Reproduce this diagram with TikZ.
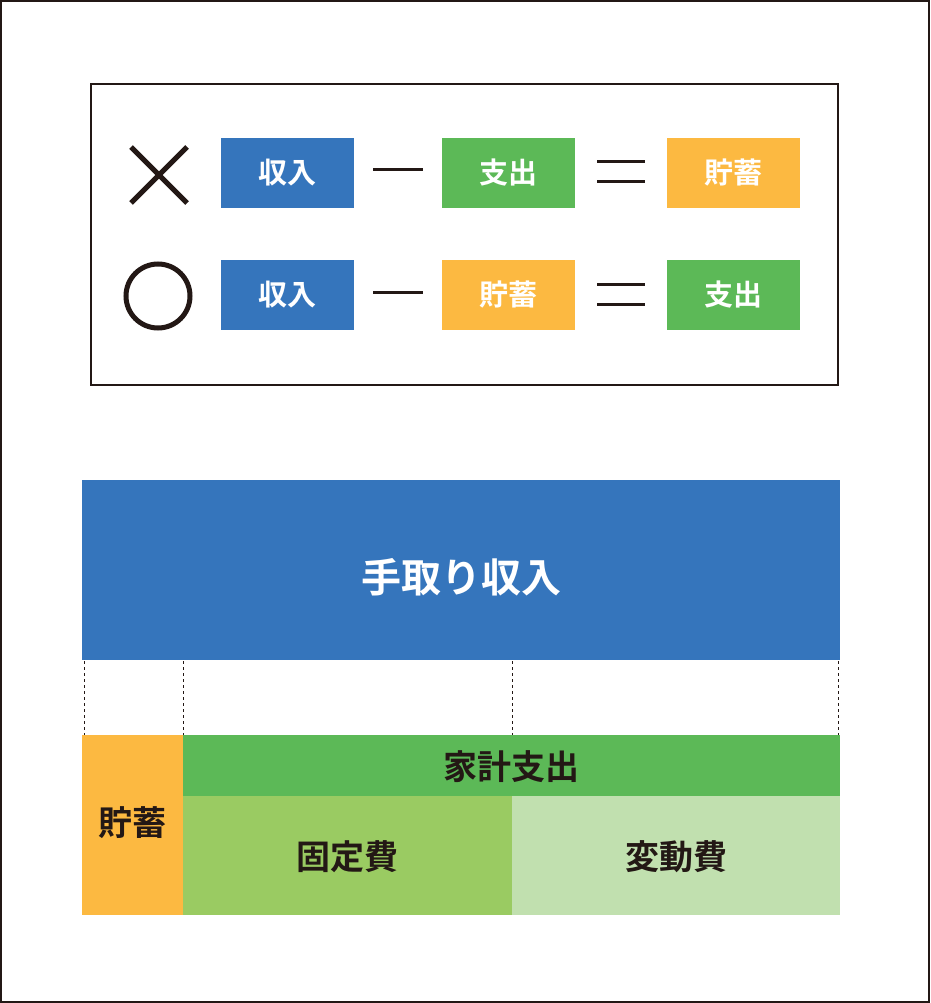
\documentclass[tikz,border=0pt]{standalone}
\usepackage{fontspec}
\newfontfamily\jp{Noto Sans CJK JP Bold}
\definecolor{cblue}{HTML}{3575BC}
\definecolor{cgreen}{HTML}{5CB957}
\definecolor{corange}{HTML}{FCB941}
\definecolor{cfix}{HTML}{9ACB62}
\definecolor{cvar}{HTML}{C1E0AF}
\definecolor{ink}{HTML}{231815}
\begin{document}
\begin{tikzpicture}[x=1pt,y=-1pt,
  tag/.style={minimum width=133pt,minimum height=70pt,inner sep=0pt,text=white,font=\jp\fontsize{29}{30}\selectfont},
  blk/.style={inner sep=0pt,font=\jp\fontsize{34}{36}\selectfont,text=ink},
  op/.style={line width=3pt,ink}]
\useasboundingbox (0,0) rectangle (930,1003);
\draw[line width=1.5pt,ink] (1,1) rectangle (929,1002);
\draw[line width=2pt,ink] (91,84) rectangle (838,385);
% row 1
\draw[line width=5pt,ink] (131,147) -- (187,203) (187,147) -- (131,203);
\node[tag,fill=cblue] (a1) at (287.5,173) {収入};
\node[tag,fill=cgreen] (b1) at (508,173) {支出};
\node[tag,fill=corange] (c1) at (733,173) {貯蓄};
\draw[op] (373,170) -- (423,170);
\draw[op] (597,162) -- (645,162) (597,182) -- (645,182);
% row 2
\draw[line width=5pt,ink] (158,296) circle (32);
\node[tag,fill=cblue] (a2) at (287.5,295) {収入};
\node[tag,fill=corange] (b2) at (508,295) {貯蓄};
\node[tag,fill=cgreen] (c2) at (733,295) {支出};
\draw[op] (373,292) -- (423,292);
\draw[op] (597,284) -- (645,284) (597,304) -- (645,304);
% bottom
\fill[cblue] (82,480) rectangle (840,660);
\node[font=\jp\fontsize{40}{42}\selectfont,text=white] (inc) at (461,577) {手取り収入};
\fill[corange] (82,735) rectangle (183,915);
\fill[cgreen] (183,735) rectangle (840,796);
\fill[cfix] (183,796) rectangle (512,915);
\fill[cvar] (512,796) rectangle (840,915);
\node[blk] (sav) at (132.5,823) {貯蓄};
\node[blk] (hh) at (511.5,767) {家計支出};
\node[blk] (fix) at (347.5,857) {固定費};
\node[blk] (var) at (676,857) {変動費};
\foreach \x in {84,183,512,838}
  \draw[dashed,thick,ink] (\x,661) -- (\x,735);
\end{tikzpicture}
\end{document}
